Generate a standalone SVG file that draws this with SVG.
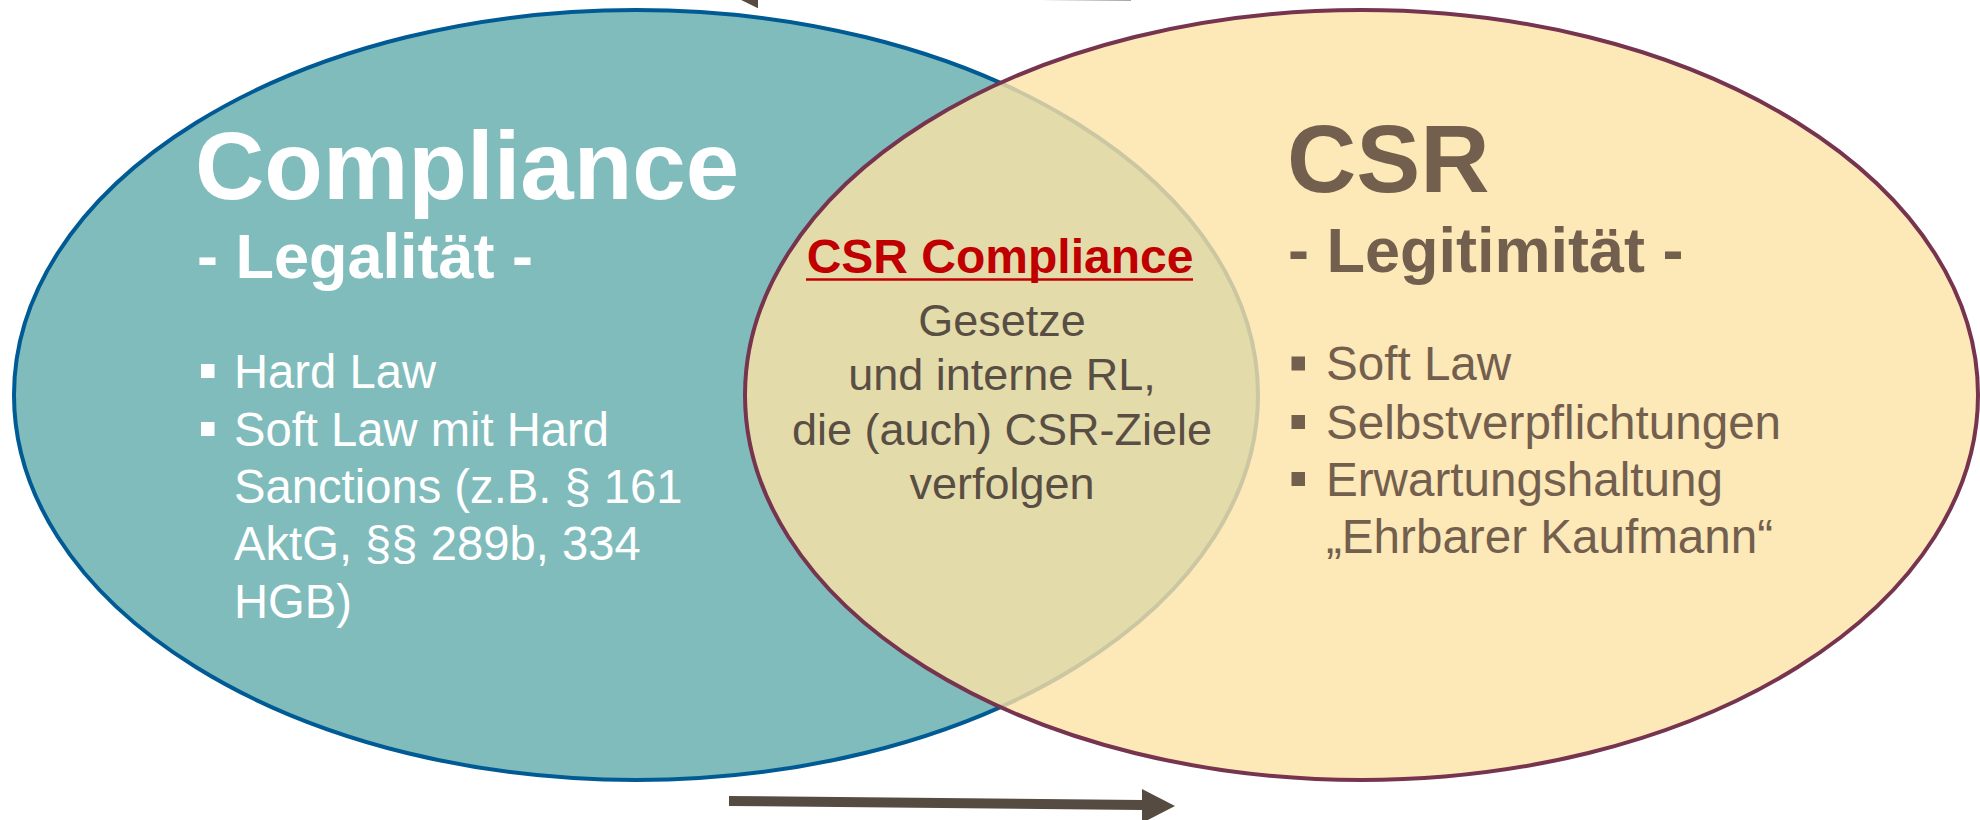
<svg xmlns="http://www.w3.org/2000/svg" width="1980" height="820" viewBox="0 0 1980 820">
  <style>
    text { font-family: "Liberation Sans", Arial, sans-serif; }
    .title { font-weight: bold; font-size: 96px; }
    .sub { font-weight: bold; font-size: 63px; }
    .item { font-size: 47.2px; }
    .item-r { font-size: 47.6px; }
    .mid { font-size: 45px; fill: #594e43; text-anchor: middle; }
    .white { fill: #ffffff; }
    .brown { fill: #735f4e; }
    .arrow { fill: #564b40; }
  </style>
  <rect x="0" y="0" width="1980" height="820" fill="#ffffff"/>

  <g id="connectors">
    <polygon class="arrow" points="758,-11 1131,-9.5 1131,0.4 758,-1.2"/>
    <polygon class="arrow" points="758,-25 758,8.3 724,-8.5"/>
    <polygon class="arrow" points="729,796 1142,800 1142,810 729,806"/>
    <polygon class="arrow" points="1142,789 1175,806 1142,823"/>
  </g>

  <g id="node-compliance">
    <ellipse cx="636" cy="395" rx="622" ry="385" fill="#80bcbc" stroke="#005a93" stroke-width="4"/>
    <text class="title white" x="195" y="199">Compliance</text>
    <text class="sub white" x="197" y="278">- Legalität -</text>
    <rect class="white" x="201" y="364" width="13.5" height="14"/>
    <text class="item white" x="234" y="388">Hard Law</text>
    <rect class="white" x="201" y="422" width="13.5" height="14"/>
    <text class="item white" x="234" y="446">Soft Law mit Hard</text>
    <text class="item white" x="234" y="503">Sanctions (z.B. § 161</text>
    <text class="item white" x="234" y="560">AktG, §§ 289b, 334</text>
    <text class="item white" x="234" y="618">HGB)</text>
  </g>

  <g id="node-csr">
    <ellipse cx="1361.5" cy="395" rx="616.5" ry="385" fill="#fce2a6" fill-opacity="0.8" stroke="#76344f" stroke-width="4"/>
    <text class="title brown" x="1287" y="192">CSR</text>
    <text class="sub brown" x="1288" y="272">- Legitimität -</text>
    <rect class="brown" x="1291.5" y="356.5" width="13.5" height="14"/>
    <text class="item-r brown" x="1326" y="379.5">Soft Law</text>
    <rect class="brown" x="1291.5" y="415" width="13.5" height="14"/>
    <text class="item-r brown" x="1326" y="439">Selbstverpflichtungen</text>
    <rect class="brown" x="1291.5" y="472" width="13.5" height="14"/>
    <text class="item-r brown" x="1326" y="496">Erwartungshaltung</text>
    <text class="item-r brown" x="1326" y="553">„Ehrbarer Kaufmann“</text>
  </g>

  <g id="node-csr-compliance">
    <text x="1000" y="273" font-size="48" font-weight="bold" fill="#c00000" text-anchor="middle">CSR Compliance</text>
    <line x1="806" y1="279.5" x2="1193" y2="279.5" stroke="#c00000" stroke-width="2.6"/>
    <text class="mid" x="1002" y="336">Gesetze</text>
    <text class="mid" x="1002" y="390">und interne RL,</text>
    <text class="mid" x="1002" y="445">die (auch) CSR-Ziele</text>
    <text class="mid" x="1002" y="499">verfolgen</text>
  </g>
</svg>
